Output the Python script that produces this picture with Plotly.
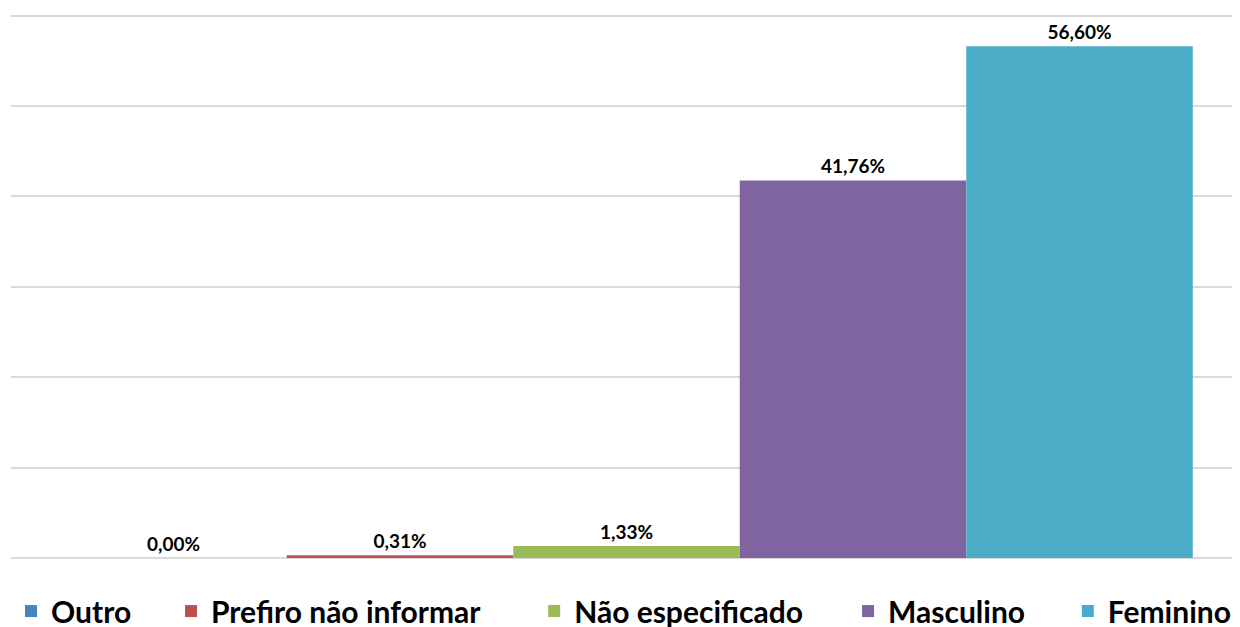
import plotly.graph_objects as go

categories = ["Outro", "Prefiro não informar", "Não especificado", "Masculino", "Feminino"]
values = [0.00, 0.31, 1.33, 41.76, 56.60]
labels = ["0,00%", "0,31%", "1,33%", "41,76%", "56,60%"]
colors = ["#4F81BD", "#C0504D", "#9BBB59", "#8064A2", "#4BACC6"]

# legend entry positions (paper x), one legend per series so spacing matches the original
legend_x = [0.0, 0.1300, 0.4250, 0.6800, 0.8585]
legend_ids = ["legend", "legend2", "legend3", "legend4", "legend5"]

fig = go.Figure()
for name, v, lab, c, lid in zip(categories, values, labels, colors, legend_ids):
    fig.add_trace(go.Bar(
        x=[""], y=[v], name=name, marker=dict(color=c, line=dict(width=0)),
        text=[lab], textposition="outside", cliponaxis=False,
        textfont=dict(family="Lato", size=19, color="#000000", weight="bold"),
        legend=lid,
    ))

legend_font = dict(family="Lato", size=30, color="#000000", weight="bold")
legend_layout = {}
for lid, lx in zip(legend_ids, legend_x):
    legend_layout[lid] = dict(orientation="h", x=lx, xanchor="left", y=-0.097, yanchor="middle",
                              font=legend_font, itemwidth=30, bgcolor="rgba(0,0,0,0)")

fig.update_layout(
    width=1248, height=640,
    margin=dict(l=3, r=14, t=3, b=90),
    paper_bgcolor="white", plot_bgcolor="white",
    barmode="group", bargap=0.08, bargroupgap=0,
    showlegend=True,
    font=dict(family="Lato"),
    **legend_layout,
)
fig.update_xaxes(showticklabels=False, showgrid=False, zeroline=False, showline=False)
fig.update_yaxes(range=[0, 60.5], tickvals=[0, 10, 20, 30, 40, 50, 60], showticklabels=False,
                 showgrid=True, gridcolor="#D9D9D9", gridwidth=1.5, zeroline=True,
                 zerolinecolor="#D9D9D9", zerolinewidth=1.5, showline=False)

fig.write_html("out.html")
